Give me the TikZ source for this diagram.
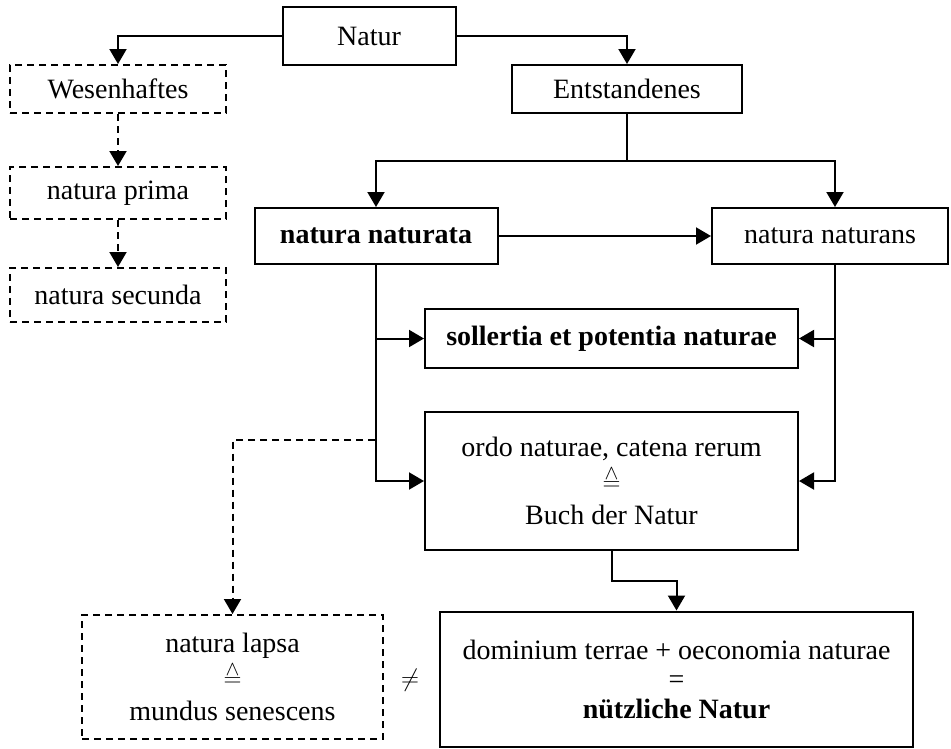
\documentclass[tikz,border=0pt]{standalone}
\usepackage{fontspec}
\setmainfont{Liberation Serif}
\usetikzlibrary{arrows.meta}
\newcommand{\corresp}{\smash{$\stackrel{\wedge}{=}$}}

\begin{document}
\begin{tikzpicture}[x=1pt,y=-1pt,line width=2pt,
  font=\fontsize{28}{34}\selectfont,
  box/.style={draw,rectangle,inner sep=0pt,align=center},
  dbox/.style={box,dash pattern=on 7pt off 5pt},
  arr/.style={-{Triangle[length=15pt,width=17pt]}},
  darr/.style={arr,dash pattern=on 7pt off 5pt}]
\useasboundingbox (0,0) rectangle (951,748);

% top row
\node[box,minimum width=173pt,minimum height=58pt] (natur) at (369,36) {Natur};
\node[dbox,minimum width=216pt,minimum height=48pt] (wesen) at (118,89) {Wesenhaftes};
\node[box,minimum width=230pt,minimum height=48pt] (entst) at (627,89) {Entstandenes};

% left column
\node[dbox,minimum width=216pt,minimum height=52pt] (prima) at (118,193) {natura prima};
\node[dbox,minimum width=216pt,minimum height=54pt] (secunda) at (118,295) {natura secunda};

% middle
\node[box,minimum width=243pt,minimum height=56pt] (naturata) at (376,236) {\textbf{natura naturata}};
\node[box,minimum width=236pt,minimum height=56pt] (naturans) at (830,236) {natura naturans};
\node[box,minimum width=373pt,minimum height=59pt] (sollertia) at (611.5,338.5) {\textbf{sollertia et potentia naturae}};
\node[box,minimum width=373pt,minimum height=138pt] (ordo) at (611.5,481) {ordo naturae, catena rerum\\\corresp\\Buch der Natur};

% bottom
\node[dbox,minimum width=301pt,minimum height=124pt] (lapsa) at (232.5,677) {natura lapsa\\\corresp\\mundus senescens};
\node[box,minimum width=473pt,minimum height=135pt] (nutz) at (676.5,679) {dominium terrae + oeconomia naturae\\[-5pt]=\\[-4pt]\textbf{nützliche Natur}};
\node (neq) at (410,680) {$\neq$};

% connectors
\draw[arr] (natur.west) -| (wesen.north);
\draw[arr] (natur.east) -| (entst.north);
\draw[darr] (wesen.south) -- (prima.north);
\draw[darr] (prima.south) -- (secunda.north);
\draw[arr] (entst.south) -- ++(0,47) -| (naturata.north);
\draw[arr] (entst.south) -- ++(0,47) -| ([xshift=5pt]naturans.north);
\draw[arr] (naturata.east) -- (naturans.west);
\draw[arr] (naturata.south) |- (ordo.west);
\draw[arr] (naturata.south |- sollertia.west) -- (sollertia.west);
\draw[arr] ([xshift=5pt]naturans.south) |- (ordo.east);
\draw[arr] ([xshift=5pt]naturans.south |- sollertia.east) -- (sollertia.east);
\coordinate (tap) at (375,440);
\draw[darr] (tap) -| (lapsa.north);
\draw[arr] (ordo.south) -- ++(0,30) -| (nutz.north);
\end{tikzpicture}
\end{document}
